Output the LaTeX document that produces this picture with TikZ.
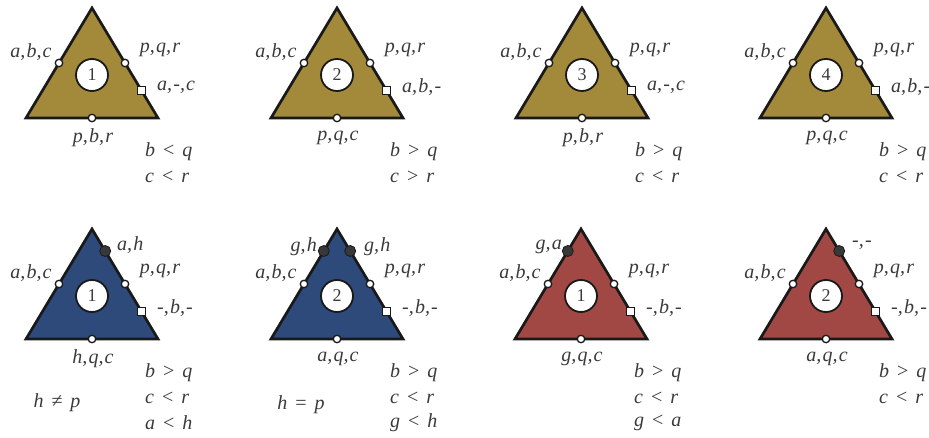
\documentclass[tikz,border=0pt]{standalone}
\usepackage{fontspec}
\setmainfont{Liberation Serif}
\usetikzlibrary{calc}
\definecolor{gold}{HTML}{A3893A}
\definecolor{navy}{HTML}{2D4A7A}
\definecolor{brick}{HTML}{A24844}
\definecolor{txt}{HTML}{3A3A3A}
\tikzset{
 tri/.style={draw=black!90, line width=2.7pt, line join=miter},
 numc/.style={circle, draw=black!90, fill=white, line width=1.8pt, minimum size=32pt, inner sep=0pt, font=\fontsize{18}{20}\selectfont, text=txt},
 port/.style={circle, draw=black!90, fill=white, line width=1.3pt, minimum size=7.5pt, inner sep=0pt},
 sqport/.style={rectangle, draw=black!90, fill=white, line width=1.3pt, minimum size=8pt, inner sep=0pt},
 dotport/.style={circle, fill=black!78, draw=black!90, line width=0.8pt, minimum size=11pt, inner sep=0pt},
 lab/.style={inner sep=0pt, text=txt, font=\fontsize{20}{24}\selectfont\itshape},
}
\newcommand{\rel}[1]{\hspace{0.4em}{\upshape #1}\hspace{0.4em}}
\newcommand{\cs}{,\hspace{0.06em}}
% #1 name, #2 cx, #3 top, #4 fill, #5 number, #6 bottom label, #7 square label
\newcommand{\tri}[7]{%
 \coordinate (#1a) at (#2,#3);
 \coordinate (#1l) at ({#2-66},{#3+110});
 \coordinate (#1r) at ({#2+66},{#3+110});
 \draw[tri,fill=#4] (#1a) -- (#1l) -- (#1r) -- cycle;
 \node[numc] (#1n) at ({#2},{#3+67}) {#5};
 \node[port] (#1pl) at ($(#1a)!0.5!(#1l)$) {};
 \node[port] (#1pr) at ($(#1a)!0.5!(#1r)$) {};
 \node[port] (#1pb) at ($(#1l)!0.5!(#1r)$) {};
 \node[sqport] (#1ps) at ($(#1a)!0.75!(#1r)$) {};
 \node[lab] (#1tl) at ({#2-61},{#3+44}) {a\cs b\cs c};
 \node[lab] (#1tr) at ({#2+68},{#3+42}) {p\cs q\cs r};
 \node[lab,anchor=west] (#1ts) at ({#2+65},{#3+79}) {#7};
 \node[lab] (#1tb) at ({#2+1},{#3+130}) {#6};
}
\begin{document}
\begin{tikzpicture}[x=1pt,y=-1pt]
\useasboundingbox (0,0) rectangle (929,438);
% top row
\tri{A}{92}{8}{gold}{1}{p\cs b\cs r}{a\cs -\cs c}
\node[lab,anchor=west] (Ar1) at (145,152) {b\rel{<}q};
\node[lab,anchor=west] (Ar2) at (145,177) {c\rel{<}r};
\tri{B}{337}{8}{gold}{2}{p\cs q\cs c}{a\cs b\cs -}
\node[lab,anchor=west] (Br1) at (390,152) {b\rel{>}q};
\node[lab,anchor=west] (Br2) at (390,177) {c\rel{>}r};
\tri{C}{582}{8}{gold}{3}{p\cs b\cs r}{a\cs -\cs c}
\node[lab,anchor=west] (Cr1) at (635,152) {b\rel{>}q};
\node[lab,anchor=west] (Cr2) at (635,177) {c\rel{<}r};
\tri{D}{826}{8}{gold}{4}{p\cs q\cs c}{a\cs b\cs -}
\node[lab,anchor=west] (Dr1) at (879,152) {b\rel{>}q};
\node[lab,anchor=west] (Dr2) at (879,177) {c\rel{<}r};
% bottom row
\tri{E}{92}{229}{navy}{1}{h\cs q\cs c}{-\cs b\cs -}
\node[dotport] (Ed) at ($(Ea)!0.2!(Er)$) {};
\node[lab,anchor=west] (Edt) at (117,245) {a\cs h};
\node[lab,anchor=west] (Er1) at (145,373) {b\rel{>}q};
\node[lab,anchor=west] (Er2) at (145,398) {c\rel{<}r};
\node[lab,anchor=west] (Er3) at (145,423) {a\rel{<}h};
\node[lab] (Ec) at (57,403) {h\rel{≠}p};
\tri{F}{337}{229}{navy}{2}{a\cs q\cs c}{-\cs b\cs -}
\node[dotport] (Fdl) at ($(Fa)!0.2!(Fl)$) {};
\node[dotport] (Fdr) at ($(Fa)!0.2!(Fr)$) {};
\node[lab,anchor=east] (Fdlt) at (317,247) {g\cs h};
\node[lab,anchor=west] (Fdrt) at (364,247) {g\cs h};
\node[lab,anchor=west] (Fr1) at (390,373) {b\rel{>}q};
\node[lab,anchor=west] (Fr2) at (390,398) {c\rel{<}r};
\node[lab,anchor=west] (Fr3) at (390,423) {g\rel{<}h};
\node[lab] (Fc) at (301,405) {h\rel{=}p};
\tri{G}{581}{229}{brick}{1}{g\cs q\cs c}{-\cs b\cs -}
\node[dotport] (Gd) at ($(Ga)!0.2!(Gl)$) {};
\node[lab,anchor=east] (Gdt) at (562,247) {g\cs a};
\node[lab,anchor=west] (Gr1) at (634,373) {b\rel{>}q};
\node[lab,anchor=west] (Gr2) at (634,398) {c\rel{<}r};
\node[lab,anchor=west] (Gr3) at (634,423) {g\rel{<}a};
\tri{H}{826}{229}{brick}{2}{a\cs q\cs c}{-\cs b\cs -}
\node[dotport] (Hd) at ($(Ha)!0.2!(Hr)$) {};
\node[lab,anchor=west] (Hdt) at (852,245) {-\cs -};
\node[lab,anchor=west] (Hr1) at (879,373) {b\rel{>}q};
\node[lab,anchor=west] (Hr2) at (879,398) {c\rel{<}r};
\end{tikzpicture}
\end{document}
